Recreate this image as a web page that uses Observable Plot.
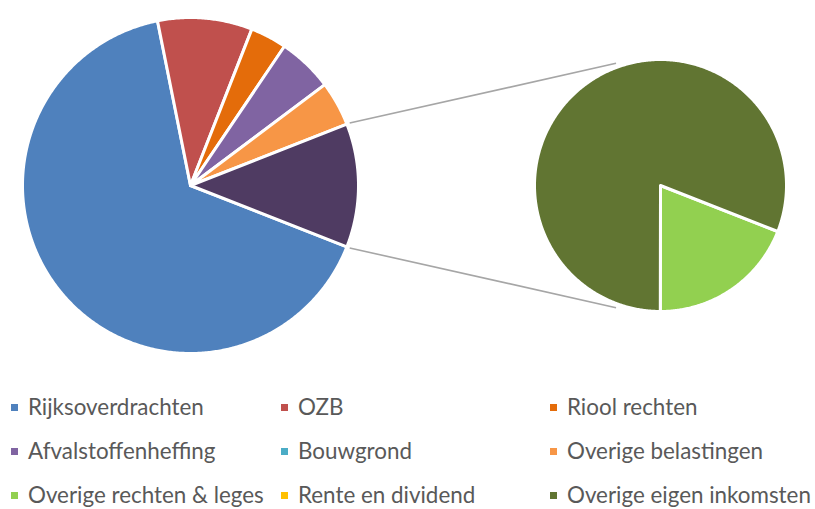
<!DOCTYPE html>
<html>
<head>
<meta charset="utf-8">
<script src="https://cdn.jsdelivr.net/npm/d3@7"></script>
<script src="https://cdn.jsdelivr.net/npm/@observablehq/plot@0.6"></script>
<style>
  html, body { margin: 0; padding: 0; background: #fff; }
  #chart { position: relative; width: 815px; }
  #legend { position: relative; width: 815px; height: 134px; font-family: Lato, "Open Sans", sans-serif; font-size: 22.4px; color: #595959; }
  .item { position: absolute; display: flex; align-items: center; white-space: nowrap; line-height: 1; }
  .sw { width: 7px; height: 7px; margin-right: 10px; flex: none; }
</style>
</head>
<body>
<div id="chart"></div>
<div id="legend"></div>
<script>
// ---- data (share of total income, %) ----
const categories = [
  "Rijksoverdrachten", "OZB", "Riool rechten",
  "Afvalstoffenheffing", "Bouwgrond", "Overige belastingen",
  "Overige rechten & leges", "Rente en dividend", "Overige eigen inkomsten"
];
const shares = [65.9, 9.1, 3.5, 5.3, 0, 4.3, 2.27, 0, 9.63];
const colors = ["#4F81BD", "#C0504D", "#E46C0A", "#8064A2", "#4BACC6", "#F79646", "#92D050", "#FFC000", "#617532"];
const secondPlotCount = 3;           // last items go into the secondary pie
const otherName = "Overig";
const otherColor = "#4F3B62";

// ---- layout ----
const W = 815, H = 375;
const main = {cx: 190, cy: 185, r: 168};
const sec = {cx: 660, cy: 185, r: 126};
const connectorSecAngles = [340, 200];  // where the connector lines meet the secondary pie

const nMain = categories.length - secondPlotCount;
const otherValue = d3.sum(shares.slice(nMain));
const mainItems = categories.slice(0, nMain).map((n, i) => ({name: n, value: shares[i]}))
  .concat([{name: otherName, value: otherValue}]);
const secItems = categories.slice(nMain).map((n, i) => ({name: n, value: shares[nMain + i]}));

const rad = a => a * Math.PI / 180;
const pt = (c, r, a) => [c.cx + r * Math.sin(rad(a)), c.cy - r * Math.cos(rad(a))];

function slices(items, c, start) {
  const total = d3.sum(items, d => d.value);
  let a = start;
  const pts = [];
  const bounds = [];
  for (const it of items) {
    const span = it.value / total * 360;
    const a0 = a, a1 = a + span;
    a = a1;
    bounds.push({name: it.name, a0, a1});
    if (it.value <= 0) continue;
    pts.push({name: it.name, x: c.cx, y: c.cy});
    const n = Math.max(2, Math.ceil(span / 0.5));
    for (let k = 0; k <= n; k++) {
      const [x, y] = pt(c, c.r, a0 + (a1 - a0) * k / n);
      pts.push({name: it.name, x, y});
    }
  }
  return {pts, bounds};
}

const otherSpan = otherValue / d3.sum(mainItems, d => d.value) * 360;
const startAngle = 90 + otherSpan / 2;
const mainS = slices(mainItems, main, startAngle);
const secS = slices(secItems, sec, startAngle);

const ob = mainS.bounds.find(b => b.name === otherName);
const [ox1, oy1] = pt(main, main.r + 3, ob.a0);   // upper edge of the "other" slice
const [ox2, oy2] = pt(main, main.r + 3, ob.a1);   // lower edge
const [sx1, sy1] = pt(sec, sec.r + 4, connectorSecAngles[0]);
const [sx2, sy2] = pt(sec, sec.r + 4, connectorSecAngles[1]);
const links = [
  {x1: ox1, y1: oy1, x2: sx1, y2: sy1},
  {x1: ox2, y1: oy2, x2: sx2, y2: sy2}
];

const colorDomain = categories.concat([otherName]);
const colorRange = colors.concat([otherColor]);

const plot = Plot.plot({
  width: W, height: H,
  margin: 0,
  x: {domain: [0, W], axis: null},
  y: {domain: [H, 0], axis: null},
  color: {domain: colorDomain, range: colorRange},
  marks: [
    Plot.link(links, {x1: "x1", y1: "y1", x2: "x2", y2: "y2", stroke: "#A6A6A6", strokeWidth: 1.6}),
    Plot.line(mainS.pts, {x: "x", y: "y", z: "name", fill: "name", stroke: "white", strokeWidth: 3, strokeLinejoin: "round", curve: "linear-closed"}),
    Plot.line(secS.pts, {x: "x", y: "y", z: "name", fill: "name", stroke: "white", strokeWidth: 3, strokeLinejoin: "round", curve: "linear-closed"})
  ]
});
document.getElementById("chart").appendChild(plot);

// ---- legend ----
const colX = [11, 281, 550];
const rowY = [32, 76, 120];
const legend = document.getElementById("legend");
categories.forEach((n, i) => {
  const d = document.createElement("div");
  d.className = "item";
  d.style.left = colX[i % 3] + "px";
  d.style.top = (rowY[Math.floor(i / 3)] - 11) + "px";
  d.style.height = "22px";
  const s = document.createElement("span");
  s.className = "sw";
  s.style.background = colors[i];
  const t = document.createElement("span");
  t.textContent = n;
  d.appendChild(s); d.appendChild(t);
  legend.appendChild(d);
});
</script>
</body>
</html>
